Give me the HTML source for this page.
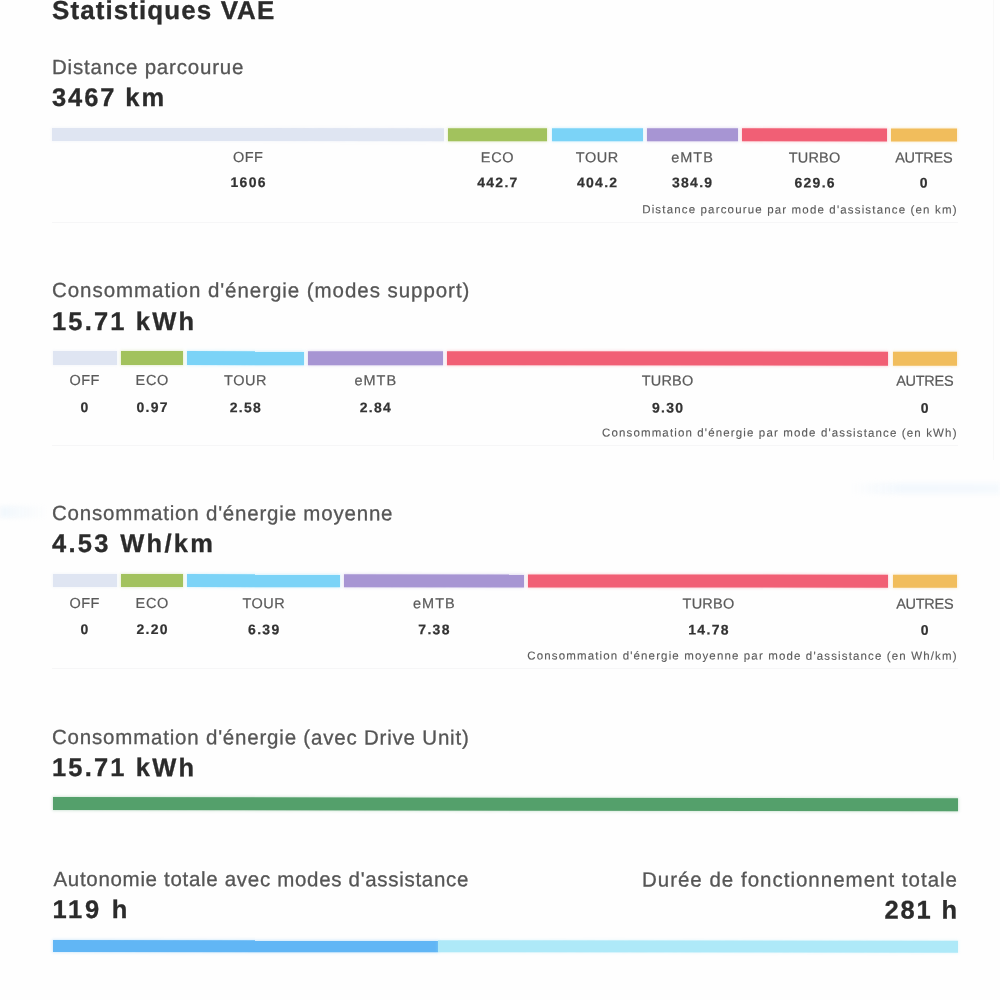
<!DOCTYPE html>
<html lang="fr">
<head>
<meta charset="utf-8">
<title>Statistiques VAE</title>
<style>
html,body{margin:0;padding:0;}
body{width:1000px;height:1000px;overflow:hidden;background:#fefefe;font-family:"Liberation Sans",sans-serif;position:relative;}
#page{position:absolute;left:0;top:0;width:1000px;height:1000px;overflow:hidden;filter:blur(0.6px);}
.s{position:absolute;left:0;top:0;width:1000px;height:1000px;transform-origin:52px 0;}
.t{position:absolute;white-space:nowrap;line-height:1;-webkit-text-stroke:0.3px currentColor;}
.b{position:absolute;}
</style>
</head>
<body>
<div id="page">
<div class="b" style="left:993px;top:0;width:1px;height:460px;background:#f8f8f8"></div>
<div class="b" style="left:52px;top:222px;width:906px;height:1px;background:#f6f6f7"></div>
<div class="b" style="left:52px;top:445px;width:906px;height:1px;background:#f6f6f7"></div>
<div class="b" style="left:52px;top:668px;width:906px;height:1px;background:#f6f6f7"></div>
<div class="b" style="left:850px;top:483px;width:150px;height:11px;background:linear-gradient(90deg,rgba(243,248,253,0),rgba(243,248,253,1) 35%,rgba(245,249,253,1));filter:blur(2px)"></div>
<div class="b" style="left:0;top:506px;width:48px;height:12px;background:linear-gradient(90deg,rgba(241,247,252,1),rgba(241,247,252,0));filter:blur(2px)"></div>
<div class="s" style="transform:skewY(0.03deg)">
<div class="b" style="left:52px;top:127.5px;width:392px;height:13.1px;background:#dfe5f2;box-shadow:0 0 3px 0.5px rgba(223,229,242,0.3)"></div>
<div class="b" style="left:447.5px;top:127.5px;width:99.5px;height:13.1px;background:#a2c25d;box-shadow:0 0 3px 0.5px rgba(162,194,93,0.3)"></div>
<div class="b" style="left:551.5px;top:127.5px;width:91px;height:13.1px;background:#7bd3f7;box-shadow:0 0 3px 0.5px rgba(123,211,247,0.3)"></div>
<div class="b" style="left:646.5px;top:127.5px;width:91px;height:13.1px;background:#a795d3;box-shadow:0 0 3px 0.5px rgba(167,149,211,0.3)"></div>
<div class="b" style="left:742px;top:127.5px;width:145px;height:13.1px;background:#f15f75;box-shadow:0 0 3px 0.5px rgba(241,95,117,0.3)"></div>
<div class="b" style="left:891px;top:127.5px;width:65.5px;height:13.1px;background:#f1bd5c;box-shadow:0 0 3px 0.5px rgba(241,189,92,0.3)"></div>
<div class="t" id="t0" style="-webkit-text-stroke-width:0.3px;top:-3.00px;font-size:26px;font-weight:700;letter-spacing:1.08px;color:#2b2b2b;left:52px;">Statistiques VAE</div>
<div class="t" id="t1" style="-webkit-text-stroke-width:0.3px;top:57.00px;font-size:20.5px;font-weight:400;letter-spacing:0.80px;color:#555555;left:52px;">Distance parcourue</div>
<div class="t" id="t2" style="-webkit-text-stroke-width:0.3px;top:85.00px;font-size:25.5px;font-weight:700;letter-spacing:1.90px;color:#2b2b2b;left:52px;">3467 km</div>
<div class="t" id="t13" style="-webkit-text-stroke-width:0.22px;top:150.00px;font-size:14.5px;font-weight:400;letter-spacing:0.40px;color:#5a5a5a;left:248px;transform:translateX(-50%);padding-left:0.40px;">OFF</div>
<div class="t" id="t14" style="-webkit-text-stroke-width:0.22px;top:175.00px;font-size:14px;font-weight:700;letter-spacing:1.30px;color:#333;left:248px;transform:translateX(-50%);padding-left:1.30px;">1606</div>
<div class="t" id="t15" style="-webkit-text-stroke-width:0.22px;top:150.00px;font-size:14.5px;font-weight:400;letter-spacing:0.70px;color:#5a5a5a;left:497.25px;transform:translateX(-50%);padding-left:0.70px;">ECO</div>
<div class="t" id="t16" style="-webkit-text-stroke-width:0.22px;top:175.00px;font-size:14px;font-weight:700;letter-spacing:1.30px;color:#333;left:497.25px;transform:translateX(-50%);padding-left:1.30px;">442.7</div>
<div class="t" id="t17" style="-webkit-text-stroke-width:0.22px;top:150.00px;font-size:14.5px;font-weight:400;letter-spacing:0.50px;color:#5a5a5a;left:597px;transform:translateX(-50%);padding-left:0.50px;">TOUR</div>
<div class="t" id="t18" style="-webkit-text-stroke-width:0.22px;top:175.00px;font-size:14px;font-weight:700;letter-spacing:1.30px;color:#333;left:597px;transform:translateX(-50%);padding-left:1.30px;">404.2</div>
<div class="t" id="t19" style="-webkit-text-stroke-width:0.22px;top:150.00px;font-size:14.5px;font-weight:400;letter-spacing:1.00px;color:#5a5a5a;left:692px;transform:translateX(-50%);padding-left:1.00px;">eMTB</div>
<div class="t" id="t20" style="-webkit-text-stroke-width:0.22px;top:175.00px;font-size:14px;font-weight:700;letter-spacing:1.30px;color:#333;left:692px;transform:translateX(-50%);padding-left:1.30px;">384.9</div>
<div class="t" id="t21" style="-webkit-text-stroke-width:0.22px;top:150.00px;font-size:14.5px;font-weight:400;letter-spacing:0.20px;color:#5a5a5a;left:814.5px;transform:translateX(-50%);padding-left:0.20px;">TURBO</div>
<div class="t" id="t22" style="-webkit-text-stroke-width:0.22px;top:175.00px;font-size:14px;font-weight:700;letter-spacing:1.30px;color:#333;left:814.5px;transform:translateX(-50%);padding-left:1.30px;">629.6</div>
<div class="t" id="t23" style="-webkit-text-stroke-width:0.22px;top:150.00px;font-size:14.5px;font-weight:400;letter-spacing:-0.30px;color:#5a5a5a;left:923.75px;transform:translateX(-50%);padding-left:-0.30px;">AUTRES</div>
<div class="t" id="t24" style="-webkit-text-stroke-width:0.22px;top:175.00px;font-size:14px;font-weight:700;letter-spacing:1.30px;color:#333;left:923.75px;transform:translateX(-50%);padding-left:1.30px;">0</div>
<div class="t" id="t25" style="-webkit-text-stroke-width:0.12px;top:204.00px;font-size:11.5px;font-weight:400;letter-spacing:1.16px;color:#5a5a5a;right:43.5px;margin-right:-1.16px;">Distance parcourue par mode d'assistance (en km)</div>
</div>
<div class="s" style="transform:skewY(0.045deg)">
<div class="b" style="left:52.5px;top:351.3px;width:64px;height:13.4px;background:#dfe5f2;box-shadow:0 0 3px 0.5px rgba(223,229,242,0.3)"></div>
<div class="b" style="left:121px;top:351.3px;width:62px;height:13.4px;background:#a2c25d;box-shadow:0 0 3px 0.5px rgba(162,194,93,0.3)"></div>
<div class="b" style="left:187px;top:351.3px;width:116.5px;height:13.4px;background:#7bd3f7;box-shadow:0 0 3px 0.5px rgba(123,211,247,0.3)"></div>
<div class="b" style="left:308px;top:351.3px;width:134.5px;height:13.4px;background:#a795d3;box-shadow:0 0 3px 0.5px rgba(167,149,211,0.3)"></div>
<div class="b" style="left:447px;top:351.3px;width:441px;height:13.4px;background:#f15f75;box-shadow:0 0 3px 0.5px rgba(241,95,117,0.3)"></div>
<div class="b" style="left:892.5px;top:351.3px;width:64.5px;height:13.4px;background:#f1bd5c;box-shadow:0 0 3px 0.5px rgba(241,189,92,0.3)"></div>
<div class="t" id="t3" style="-webkit-text-stroke-width:0.3px;top:280.00px;font-size:20.5px;font-weight:400;letter-spacing:0.95px;color:#555555;left:52px;">Consommation d'énergie (modes support)</div>
<div class="t" id="t4" style="-webkit-text-stroke-width:0.3px;top:309.00px;font-size:25.5px;font-weight:700;letter-spacing:2.16px;color:#2b2b2b;left:52px;">15.71 kWh</div>
<div class="t" id="t26" style="-webkit-text-stroke-width:0.22px;top:373.00px;font-size:14.5px;font-weight:400;letter-spacing:0.40px;color:#5a5a5a;left:84.5px;transform:translateX(-50%);padding-left:0.40px;">OFF</div>
<div class="t" id="t27" style="-webkit-text-stroke-width:0.22px;top:400.00px;font-size:14px;font-weight:700;letter-spacing:1.30px;color:#333;left:84.5px;transform:translateX(-50%);padding-left:1.30px;">0</div>
<div class="t" id="t28" style="-webkit-text-stroke-width:0.22px;top:373.00px;font-size:14.5px;font-weight:400;letter-spacing:0.70px;color:#5a5a5a;left:152px;transform:translateX(-50%);padding-left:0.70px;">ECO</div>
<div class="t" id="t29" style="-webkit-text-stroke-width:0.22px;top:400.00px;font-size:14px;font-weight:700;letter-spacing:1.30px;color:#333;left:152px;transform:translateX(-50%);padding-left:1.30px;">0.97</div>
<div class="t" id="t30" style="-webkit-text-stroke-width:0.22px;top:373.00px;font-size:14.5px;font-weight:400;letter-spacing:0.50px;color:#5a5a5a;left:245.25px;transform:translateX(-50%);padding-left:0.50px;">TOUR</div>
<div class="t" id="t31" style="-webkit-text-stroke-width:0.22px;top:400.00px;font-size:14px;font-weight:700;letter-spacing:1.30px;color:#333;left:245.25px;transform:translateX(-50%);padding-left:1.30px;">2.58</div>
<div class="t" id="t32" style="-webkit-text-stroke-width:0.22px;top:373.00px;font-size:14.5px;font-weight:400;letter-spacing:1.00px;color:#5a5a5a;left:375.25px;transform:translateX(-50%);padding-left:1.00px;">eMTB</div>
<div class="t" id="t33" style="-webkit-text-stroke-width:0.22px;top:400.00px;font-size:14px;font-weight:700;letter-spacing:1.30px;color:#333;left:375.25px;transform:translateX(-50%);padding-left:1.30px;">2.84</div>
<div class="t" id="t34" style="-webkit-text-stroke-width:0.22px;top:373.00px;font-size:14.5px;font-weight:400;letter-spacing:0.20px;color:#5a5a5a;left:667.5px;transform:translateX(-50%);padding-left:0.20px;">TURBO</div>
<div class="t" id="t35" style="-webkit-text-stroke-width:0.22px;top:400.00px;font-size:14px;font-weight:700;letter-spacing:1.30px;color:#333;left:667.5px;transform:translateX(-50%);padding-left:1.30px;">9.30</div>
<div class="t" id="t36" style="-webkit-text-stroke-width:0.22px;top:373.00px;font-size:14.5px;font-weight:400;letter-spacing:-0.30px;color:#5a5a5a;left:924.75px;transform:translateX(-50%);padding-left:-0.30px;">AUTRES</div>
<div class="t" id="t37" style="-webkit-text-stroke-width:0.22px;top:400.00px;font-size:14px;font-weight:700;letter-spacing:1.30px;color:#333;left:924.75px;transform:translateX(-50%);padding-left:1.30px;">0</div>
<div class="t" id="t38" style="-webkit-text-stroke-width:0.12px;top:427.00px;font-size:11.5px;font-weight:400;letter-spacing:1.14px;color:#5a5a5a;right:43.5px;margin-right:-1.14px;">Consommation d'énergie par mode d'assistance (en kWh)</div>
</div>
<div class="s" style="transform:skewY(0.05deg)">
<div class="b" style="left:52.5px;top:574.4px;width:64px;height:12.6px;background:#dfe5f2;box-shadow:0 0 3px 0.5px rgba(223,229,242,0.3)"></div>
<div class="b" style="left:121px;top:574.4px;width:62px;height:12.6px;background:#a2c25d;box-shadow:0 0 3px 0.5px rgba(162,194,93,0.3)"></div>
<div class="b" style="left:187px;top:574.4px;width:153.3px;height:12.6px;background:#7bd3f7;box-shadow:0 0 3px 0.5px rgba(123,211,247,0.3)"></div>
<div class="b" style="left:344.2px;top:574.4px;width:179.4px;height:12.6px;background:#a795d3;box-shadow:0 0 3px 0.5px rgba(167,149,211,0.3)"></div>
<div class="b" style="left:528.3px;top:574.4px;width:360.2px;height:12.6px;background:#f15f75;box-shadow:0 0 3px 0.5px rgba(241,95,117,0.3)"></div>
<div class="b" style="left:892.5px;top:574.4px;width:64.5px;height:12.6px;background:#f1bd5c;box-shadow:0 0 3px 0.5px rgba(241,189,92,0.3)"></div>
<div class="t" id="t5" style="-webkit-text-stroke-width:0.3px;top:503.00px;font-size:20.5px;font-weight:400;letter-spacing:0.80px;color:#555555;left:52px;">Consommation d'énergie moyenne</div>
<div class="t" id="t6" style="-webkit-text-stroke-width:0.3px;top:531.00px;font-size:25.5px;font-weight:700;letter-spacing:2.30px;color:#2b2b2b;left:52px;">4.53 Wh/km</div>
<div class="t" id="t39" style="-webkit-text-stroke-width:0.22px;top:596.00px;font-size:14.5px;font-weight:400;letter-spacing:0.40px;color:#5a5a5a;left:84.5px;transform:translateX(-50%);padding-left:0.40px;">OFF</div>
<div class="t" id="t40" style="-webkit-text-stroke-width:0.22px;top:622.00px;font-size:14px;font-weight:700;letter-spacing:1.30px;color:#333;left:84.5px;transform:translateX(-50%);padding-left:1.30px;">0</div>
<div class="t" id="t41" style="-webkit-text-stroke-width:0.22px;top:596.00px;font-size:14.5px;font-weight:400;letter-spacing:0.70px;color:#5a5a5a;left:152px;transform:translateX(-50%);padding-left:0.70px;">ECO</div>
<div class="t" id="t42" style="-webkit-text-stroke-width:0.22px;top:622.00px;font-size:14px;font-weight:700;letter-spacing:1.30px;color:#333;left:152px;transform:translateX(-50%);padding-left:1.30px;">2.20</div>
<div class="t" id="t43" style="-webkit-text-stroke-width:0.22px;top:596.00px;font-size:14.5px;font-weight:400;letter-spacing:0.50px;color:#5a5a5a;left:263.65px;transform:translateX(-50%);padding-left:0.50px;">TOUR</div>
<div class="t" id="t44" style="-webkit-text-stroke-width:0.22px;top:622.00px;font-size:14px;font-weight:700;letter-spacing:1.30px;color:#333;left:263.65px;transform:translateX(-50%);padding-left:1.30px;">6.39</div>
<div class="t" id="t45" style="-webkit-text-stroke-width:0.22px;top:596.00px;font-size:14.5px;font-weight:400;letter-spacing:1.00px;color:#5a5a5a;left:433.9px;transform:translateX(-50%);padding-left:1.00px;">eMTB</div>
<div class="t" id="t46" style="-webkit-text-stroke-width:0.22px;top:622.00px;font-size:14px;font-weight:700;letter-spacing:1.30px;color:#333;left:433.9px;transform:translateX(-50%);padding-left:1.30px;">7.38</div>
<div class="t" id="t47" style="-webkit-text-stroke-width:0.22px;top:596.00px;font-size:14.5px;font-weight:400;letter-spacing:0.20px;color:#5a5a5a;left:708.4px;transform:translateX(-50%);padding-left:0.20px;">TURBO</div>
<div class="t" id="t48" style="-webkit-text-stroke-width:0.22px;top:622.00px;font-size:14px;font-weight:700;letter-spacing:1.30px;color:#333;left:708.4px;transform:translateX(-50%);padding-left:1.30px;">14.78</div>
<div class="t" id="t49" style="-webkit-text-stroke-width:0.22px;top:596.00px;font-size:14.5px;font-weight:400;letter-spacing:-0.30px;color:#5a5a5a;left:924.75px;transform:translateX(-50%);padding-left:-0.30px;">AUTRES</div>
<div class="t" id="t50" style="-webkit-text-stroke-width:0.22px;top:622.00px;font-size:14px;font-weight:700;letter-spacing:1.30px;color:#333;left:924.75px;transform:translateX(-50%);padding-left:1.30px;">0</div>
<div class="t" id="t51" style="-webkit-text-stroke-width:0.12px;top:650.00px;font-size:11.5px;font-weight:400;letter-spacing:1.14px;color:#5a5a5a;right:43.5px;margin-right:-1.14px;">Consommation d'énergie moyenne par mode d'assistance (en Wh/km)</div>
</div>
<div class="s" style="transform:skewY(0.085deg)">
<div class="b" style="left:53px;top:797px;width:904.5px;height:13.3px;background:#54a06b;box-shadow:0 0 3px 0.5px rgba(84,160,107,0.3)"></div>
<div class="t" id="t7" style="-webkit-text-stroke-width:0.3px;top:727.00px;font-size:20.5px;font-weight:400;letter-spacing:0.80px;color:#555555;left:52px;">Consommation d'énergie (avec Drive Unit)</div>
<div class="t" id="t8" style="-webkit-text-stroke-width:0.3px;top:755.00px;font-size:25.5px;font-weight:700;letter-spacing:2.16px;color:#2b2b2b;left:52px;">15.71 kWh</div>
</div>
<div class="s" style="transform:skewY(0.04deg)">
<div class="b" style="left:53px;top:939.5px;width:384.5px;height:12.7px;background:#61b6f5;box-shadow:0 0 3px 0.5px rgba(97,182,245,0.3)"></div>
<div class="b" style="left:437.5px;top:939.5px;width:520px;height:12.7px;background:#aee9f8;box-shadow:0 0 3px 0.5px rgba(174,233,248,0.3)"></div>
<div class="t" id="t9" style="-webkit-text-stroke-width:0.3px;top:869.00px;font-size:20.5px;font-weight:400;letter-spacing:0.69px;color:#555555;left:53.5px;">Autonomie totale avec modes d'assistance</div>
<div class="t" id="t10" style="-webkit-text-stroke-width:0.3px;top:897.00px;font-size:25.5px;font-weight:700;letter-spacing:2.73px;color:#2b2b2b;left:52.5px;">119 h</div>
<div class="t" id="t11" style="-webkit-text-stroke-width:0.3px;top:869.00px;font-size:20.5px;font-weight:400;letter-spacing:1.00px;color:#555555;right:43px;margin-right:-1.00px;">Durée de fonctionnement totale</div>
<div class="t" id="t12" style="-webkit-text-stroke-width:0.3px;top:897.00px;font-size:25.5px;font-weight:700;letter-spacing:1.85px;color:#2b2b2b;right:43px;margin-right:-1.85px;">281 h</div>
</div>
</div>
</body>
</html>
